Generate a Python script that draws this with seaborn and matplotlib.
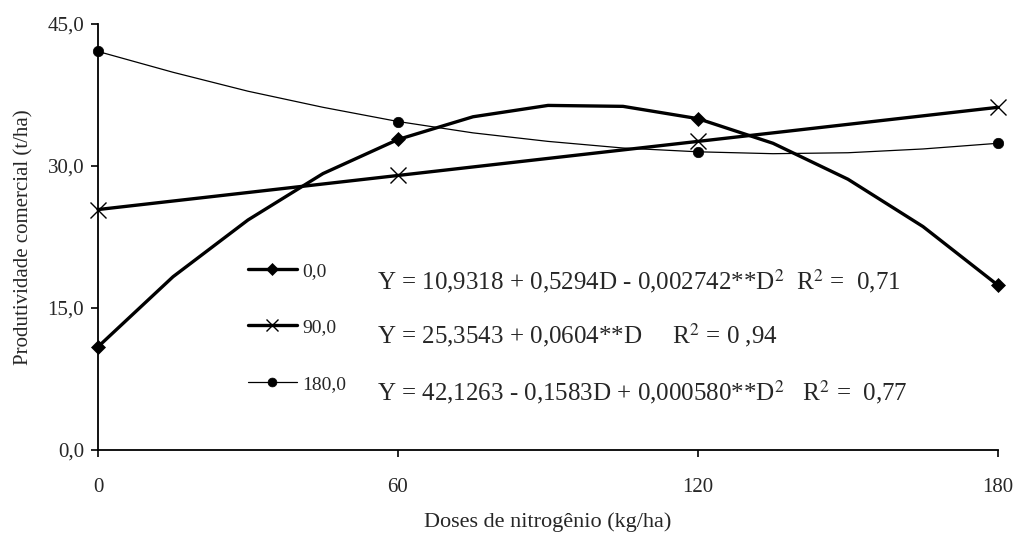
import numpy as np
import pandas as pd
import seaborn as sns
import matplotlib
matplotlib.use("Agg")
from matplotlib import pyplot as plt

doses = [0, 15, 30, 45, 60, 75, 90, 105, 120, 135, 150, 165, 180]
prod_0 = [10.9, 18.3, 24.3, 29.2, 32.8, 35.2, 36.4, 36.3, 35.0, 32.4, 28.6, 23.6, 17.4]
prod_90 = [25.4, 26.3, 27.2, 28.1, 29.0, 29.9, 30.8, 31.7, 32.6, 33.5, 34.4, 35.3, 36.2]
prod_180 = [42.1, 39.9, 37.9, 36.2, 34.7, 33.5, 32.6, 31.9, 31.5, 31.3, 31.4, 31.8, 32.4]

series_names = ["0,0", "90,0", "180,0"]
equations = [
    r"Y = 10,9318 + 0,5294D - 0,002742**D$^2$  R$^2$ =  0,71",
    r"Y = 25,3543 + 0,0604**D     R$^2$ = 0 ,94",
    r"Y = 42,1263 - 0,1583D + 0,000580**D$^2$   R$^2$ =  0,77",
]
yticks = [0, 15, 30, 45]
ytick_labels = ["0,0", "15,0", "30,0", "45,0"]
xticks = [0, 60, 120, 180]

sns.set_style("ticks")
plt.rcParams['font.family'] = ['Liberation Serif', 'DejaVu Serif']
plt.rcParams['mathtext.fontset'] = 'stix'

fig = plt.figure(figsize=(10.17, 5.33), dpi=100)
ax = fig.add_axes([98/1017, 1-450/533, 900/1017, 426/533])

df = pd.DataFrame({"dose": doses, "p0": prod_0, "p90": prod_90, "p180": prod_180})

sns.lineplot(data=df, x="dose", y="p0", ax=ax, color="black", lw=2.4,
             marker="D", markersize=7, mec="black", mew=0.5, markevery=4,
             label=series_names[0])
sns.lineplot(data=df, x="dose", y="p90", ax=ax, color="black", lw=2.4,
             marker="x", markersize=11, mec="black", mew=1.0, markevery=4,
             label=series_names[1])
sns.lineplot(data=df, x="dose", y="p180", ax=ax, color="black", lw=0.9,
             marker="o", markersize=7.5, mec="black", mew=0.5, markevery=4,
             label=series_names[2])

ax.set_xlim(0, 180)
ax.set_ylim(0, 45)
ax.set_xticks(xticks)
ax.set_yticks(yticks)
ax.set_yticklabels(ytick_labels)
ax.tick_params(axis="both", direction="out", length=5, width=1.2, labelsize=15, color="black")
ax.tick_params(axis="x", pad=15)
ax.tick_params(axis="y", pad=5)
for s in ["top", "right"]:
    ax.spines[s].set_visible(False)
for s in ["left", "bottom"]:
    ax.spines[s].set_linewidth(1.3)
    ax.spines[s].set_color("black")

ax.set_xlabel("Doses de nitrogênio (kg/ha)", fontsize=16, labelpad=11)
ax.set_ylabel("Produtividade comercial (t/ha)", fontsize=15, labelpad=10)
for l in ax.lines:
    l.set_clip_on(False)

leg = ax.legend(loc="upper left", bbox_to_anchor=((248-98)/900, (450-262)/426),
                frameon=False, fontsize=14, handlelength=2.5, handletextpad=0.3,
                labelspacing=2.0, borderpad=0, borderaxespad=0, markerscale=0.85)

eq_y = [17.9, 12.1, 6.1]
for eq, yy in zip(equations, eq_y):
    ax.text(55.8, yy, eq, fontsize=18, va="center", ha="left")

fig.savefig("out.png", dpi=100)
